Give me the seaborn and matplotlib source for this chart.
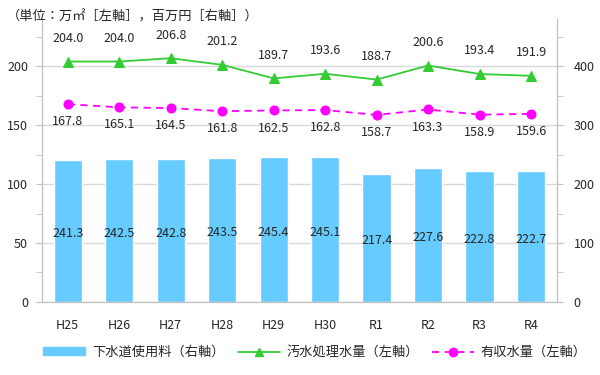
import numpy as np
import pandas as pd
import matplotlib.pyplot as plt
import seaborn as sns
from matplotlib.lines import Line2D
from matplotlib.patches import Patch

years = ['H25', 'H26', 'H27', 'H28', 'H29', 'H30', 'R1', 'R2', 'R3', 'R4']
fee = [241.3, 242.5, 242.8, 243.5, 245.4, 245.1, 217.4, 227.6, 222.8, 222.7]      # 百万円（右軸）
treated = [204.0, 204.0, 206.8, 201.2, 189.7, 193.6, 188.7, 200.6, 193.4, 191.9]  # 万㎡（左軸）
billed = [167.8, 165.1, 164.5, 161.8, 162.5, 162.8, 158.7, 163.3, 158.9, 159.6]   # 万㎡（左軸）

sns.set_style('white')
plt.rcParams['font.family'] = ['Noto Sans CJK JP', 'DejaVu Sans']
plt.rcParams['font.size'] = 9

df = pd.DataFrame({'year': years, 'fee': fee, 'treated': treated, 'billed': billed})
df['pos'] = np.arange(len(df))

fig = plt.figure(figsize=(6, 3.75), dpi=100)
ax = fig.add_axes([0.07, 0.195, 0.858, 0.754])
ax2 = ax.twinx()

blue = '#66CCFF'
green = '#33CC33'
pink = '#FF00FF'
grey = '#BFBFBF'

# bars on right axis, drawn underneath the lines
sns.barplot(data=df, x='pos', y='fee', ax=ax2, color=blue, width=0.55,
            saturation=1, native_scale=True, zorder=2)
ax2.set_ylim(0, 480)
ax2.set_yticks(range(0, 401, 100))
ax2.set_yticks(range(50, 451, 100), minor=True)
ax2.grid(axis='y', color='#D9D9D9', linewidth=1, zorder=0)
ax2.set_axisbelow(True)
for x, v in zip(df['pos'], fee):
    ax2.annotate(f'{v:.1f}', (x, v / 2), xytext=(0, -2), textcoords='offset points',
                 ha='center', va='center', fontsize=9, zorder=3)

ax.set_zorder(ax2.get_zorder() + 1)
ax.patch.set_visible(False)
sns.lineplot(data=df, x='pos', y='treated', ax=ax, color=green, marker='^',
             markersize=7, markeredgecolor=green, linewidth=1.3)
sns.lineplot(data=df, x='pos', y='billed', ax=ax, color=pink, marker='o',
             markersize=6.5, markeredgecolor=pink, linewidth=1.3, linestyle=(0, (4, 3)))
for x, v in zip(df['pos'], treated):
    ax.annotate(f'{v:.1f}', (x, v), xytext=(0, 12), textcoords='offset points',
                ha='center', va='bottom', fontsize=9)
for x, v in zip(df['pos'], billed):
    ax.annotate(f'{v:.1f}', (x, v), xytext=(0, -8), textcoords='offset points',
                ha='center', va='top', fontsize=9)

ax.set_ylim(0, 240)
ax.set_yticks(range(0, 201, 50))
ax.set_yticks(range(25, 226, 50), minor=True)
ax.set_xlim(-0.5, len(years) - 0.5)
ax.set_xticks(df['pos'])
ax.set_xticklabels(years)
ax.set_xticks(np.arange(-0.5, len(years), 1), minor=True)
ax.set_xlabel('')
ax.set_ylabel('')
ax2.set_ylabel('')
ax2.set_xlabel('')

for a in (ax, ax2):
    for s in a.spines.values():
        s.set_color(grey)
    a.spines['top'].set_visible(False)
ax.tick_params(axis='x', which='major', length=0, pad=12, labelsize=9)
ax.tick_params(axis='x', which='minor', length=5, color=grey)
ax.tick_params(axis='y', which='both', length=4, color=grey, labelsize=9, pad=6)
ax2.tick_params(axis='y', which='both', length=4, color=grey, labelsize=9, pad=8)
ax2.tick_params(axis='x', which='both', length=0)

fig.text(0.012, 0.955, '（単位：万㎡［左軸］，百万円［右軸］）', fontsize=9.5,
         va='center', ha='left')

handles = [
    Patch(facecolor=blue, edgecolor=blue),
    Line2D([], [], color=green, marker='^', markersize=6, linewidth=1.3),
    Line2D([], [], color=pink, marker='o', markersize=6, linewidth=1.3, linestyle=(0, (4, 3))),
]
labels = ['下水道使用料（右軸）', '汚水処理水量（左軸）', '有収水量（左軸）']
fig.legend(handles, labels, loc='center', bbox_to_anchor=(0.525, 0.06), ncol=3,
           frameon=False, fontsize=9.5, handlelength=3.2, handleheight=0.55,
           columnspacing=1.0, handletextpad=0.5)

fig.savefig('out.png', dpi=100)
